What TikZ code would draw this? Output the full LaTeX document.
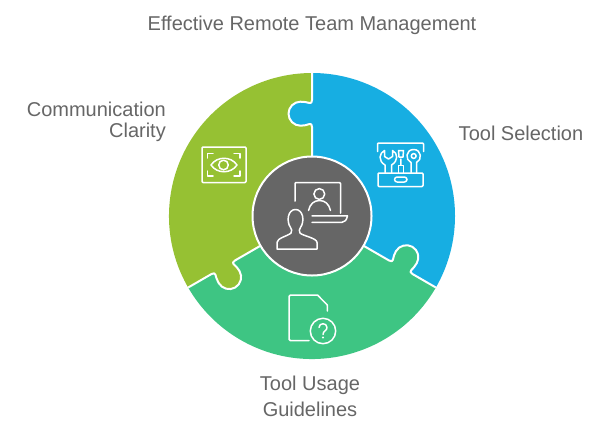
\documentclass[tikz,border=0pt]{standalone}
\usepackage{fontspec}
\setmainfont{Liberation Sans}
\definecolor{cblue}{HTML}{17AEE2}
\definecolor{cgreen}{HTML}{3EC583}
\definecolor{cyel}{HTML}{96C133}
\definecolor{cgray}{HTML}{666666}
\newcommand{\SeamOut}[1]{([rotate=#1]0,60) -- ([rotate=#1]0,89)
 .. controls ([rotate=#1]0,91.5) and ([rotate=#1]-1,92.5) .. ([rotate=#1]-2.5,92)
 .. controls ([rotate=#1]-5,91) and ([rotate=#1]-8,90.3) .. ([rotate=#1]-11.5,90.3)
 .. controls ([rotate=#1]-18,90.3) and ([rotate=#1]-23.5,95.7) .. ([rotate=#1]-23.5,102.3)
 .. controls ([rotate=#1]-23.5,109) and ([rotate=#1]-18,114.3) .. ([rotate=#1]-11.5,114.3)
 .. controls ([rotate=#1]-8,114.3) and ([rotate=#1]-5,113.8) .. ([rotate=#1]-2.5,113)
 .. controls ([rotate=#1]-1,112.5) and ([rotate=#1]0,113.5) .. ([rotate=#1]0,116)
 -- ([rotate=#1]0,143)}
\newcommand{\SeamBack}[1]{([rotate=#1]0,143) -- ([rotate=#1]0,116)
 .. controls ([rotate=#1]0,113.5) and ([rotate=#1]-1,112.5) .. ([rotate=#1]-2.5,113)
 .. controls ([rotate=#1]-5,113.8) and ([rotate=#1]-8,114.3) .. ([rotate=#1]-11.5,114.3)
 .. controls ([rotate=#1]-18,114.3) and ([rotate=#1]-23.5,109) .. ([rotate=#1]-23.5,102.3)
 .. controls ([rotate=#1]-23.5,95.7) and ([rotate=#1]-18,90.3) .. ([rotate=#1]-11.5,90.3)
 .. controls ([rotate=#1]-8,90.3) and ([rotate=#1]-5,91) .. ([rotate=#1]-2.5,92)
 .. controls ([rotate=#1]-1,92.5) and ([rotate=#1]0,91.5) .. ([rotate=#1]0,89)
 -- ([rotate=#1]0,60)}
\tikzset{
  label text/.style={text=cgray,font=\fontsize{20}{24}\selectfont,inner sep=0pt},
  icon/.style={draw=white,line width=1.5pt,line cap=round,line join=round},
  seam/.style={draw=white,line width=2pt,line join=round}
}
\begin{document}
\begin{tikzpicture}[x=1pt,y=-1pt]
\useasboundingbox (0,0) rectangle (601,432);
\fill[white] (0,0) rectangle (601,432);
\begin{scope}[shift={(312,216)},y=1pt]
  \fill[cblue] \SeamOut{0} arc[start angle=90,end angle=-30,radius=143] -- \SeamBack{-120} -- cycle;
  \fill[cgreen] \SeamOut{-120} arc[start angle=-30,end angle=-150,radius=143] -- \SeamBack{-240} -- cycle;
  \fill[cyel] \SeamOut{-240} arc[start angle=210,end angle=90,radius=143] -- \SeamBack{0} -- cycle;
  \draw[seam] \SeamOut{0};
  \draw[seam] \SeamOut{-120};
  \draw[seam] \SeamOut{-240};
  \node[circle,draw=white,line width=2pt,fill=cgray,minimum size=119pt,inner sep=0pt,outer sep=0pt] (hub) at (0,0) {};
\end{scope}
% titles
\node[label text,anchor=center] (title) at (312,25) {Effective Remote Team Management};
\node[label text,anchor=east] (comm1) at (166,109) {Communication};
\node[label text,anchor=east] (comm2) at (166,132) {Clarity};
\node[label text,anchor=center] (tool) at (521,133) {Tool Selection};
\node[label text,anchor=center] (usage1) at (310,385) {Tool Usage};
\node[label text,anchor=center] (usage2) at (310,409) {Guidelines};
% eye icon
\draw[icon,rounded corners=1pt] (202,147) rectangle (246,182.5);
\draw[icon] (207.5,158) -- (207.5,153.5) -- (213,153.5);
\draw[icon] (234,153.5) -- (240,153.5) -- (240,158);
\draw[icon] (207.5,171) -- (207.5,176) -- (213,176);
\draw[icon] (234,176) -- (240,176) -- (240,171);
\draw[icon] (211,165) .. controls (217,156) and (231,156) .. (237,165) .. controls (231,174) and (217,174) .. (211,165) -- cycle;
\draw[icon] (223.5,165) circle[radius=4.8];
% toolbox icon
\draw[icon] (377.5,151.5) -- (377.5,144) -- (378.5,143) -- (422.5,143) -- (423.5,144) -- (423.5,151.5);
\draw[icon,rounded corners=1pt] (378,173) rectangle (423,186.5);
\draw[icon,rounded corners=2.6pt] (394.5,177) rectangle (407,182);
\draw[icon] (385,172.5) -- (385,165) .. controls (378,161) and (379,153) .. (384.5,150.5) -- (384.5,156.5) -- (388.5,159) -- (392.5,156.5) -- (392.5,150.5) .. controls (398,153) and (398.5,161) .. (391.5,165) -- (391.5,172.5);
\draw[icon] (398.5,172.5) -- (398.5,165.5) -- (403.5,165.5) -- (403.5,172.5);
\draw[icon] (400.8,165) -- (400.8,159) (398.5,150.5) -- (403.5,150.5) -- (403,157) -- (399,157) -- cycle;
\draw[icon] (411,172.5) -- (411,162.5) .. controls (405,160) and (405.5,149.5) .. (413.7,149.5) .. controls (421.5,149.5) and (422.5,160) .. (416.5,162.5) -- (416.5,172.5);
\draw[icon] (413.7,156) circle[radius=2.4];
% hub icon
\draw[icon] (295,201) -- (295,183.5) -- (296,182.5) -- (339.5,182.5) -- (340.5,183.5) -- (340.5,213);
\draw[icon] (312,215.8) -- (347.5,215.8) .. controls (346.5,220) and (345,222.3) .. (342,222.3) -- (312,222.3);
\draw[icon] (319.3,194) circle[radius=5.4];
\draw[icon] (308.5,210.5) .. controls (310,204) and (314,200.5) .. (319.5,200.5) .. controls (325,200.5) and (329,204) .. (330.5,210.5);
\draw[icon] (277,249) -- (277,242.5) .. controls (277,238) and (288,236) .. (291,233) .. controls (292.5,231) and (291.5,229) .. (290.5,227.5) .. controls (286,221) and (288,209.5) .. (295.5,209.5) .. controls (303,209.5) and (305,221) .. (300.5,227.5) .. controls (299.5,229) and (298.5,231) .. (300,233) .. controls (303,236) and (317,238) .. (317,242.5) -- (317,249) -- cycle;
% document icon
\draw[icon] (309,340.7) -- (290.5,340.7) -- (289,339.2) -- (289,296.5) -- (290.5,295) -- (317.5,295) -- (327.3,305) -- (327.3,311);
\draw[icon] (323,331) circle[radius=12.7];
\draw[icon] (319,327.5) .. controls (319,322.5) and (327,322.5) .. (327,327.5) .. controls (327,331) and (323,330.5) .. (323,334.5);
\fill[white] (323,337.5) circle[radius=1.1];
\end{tikzpicture}
\end{document}
